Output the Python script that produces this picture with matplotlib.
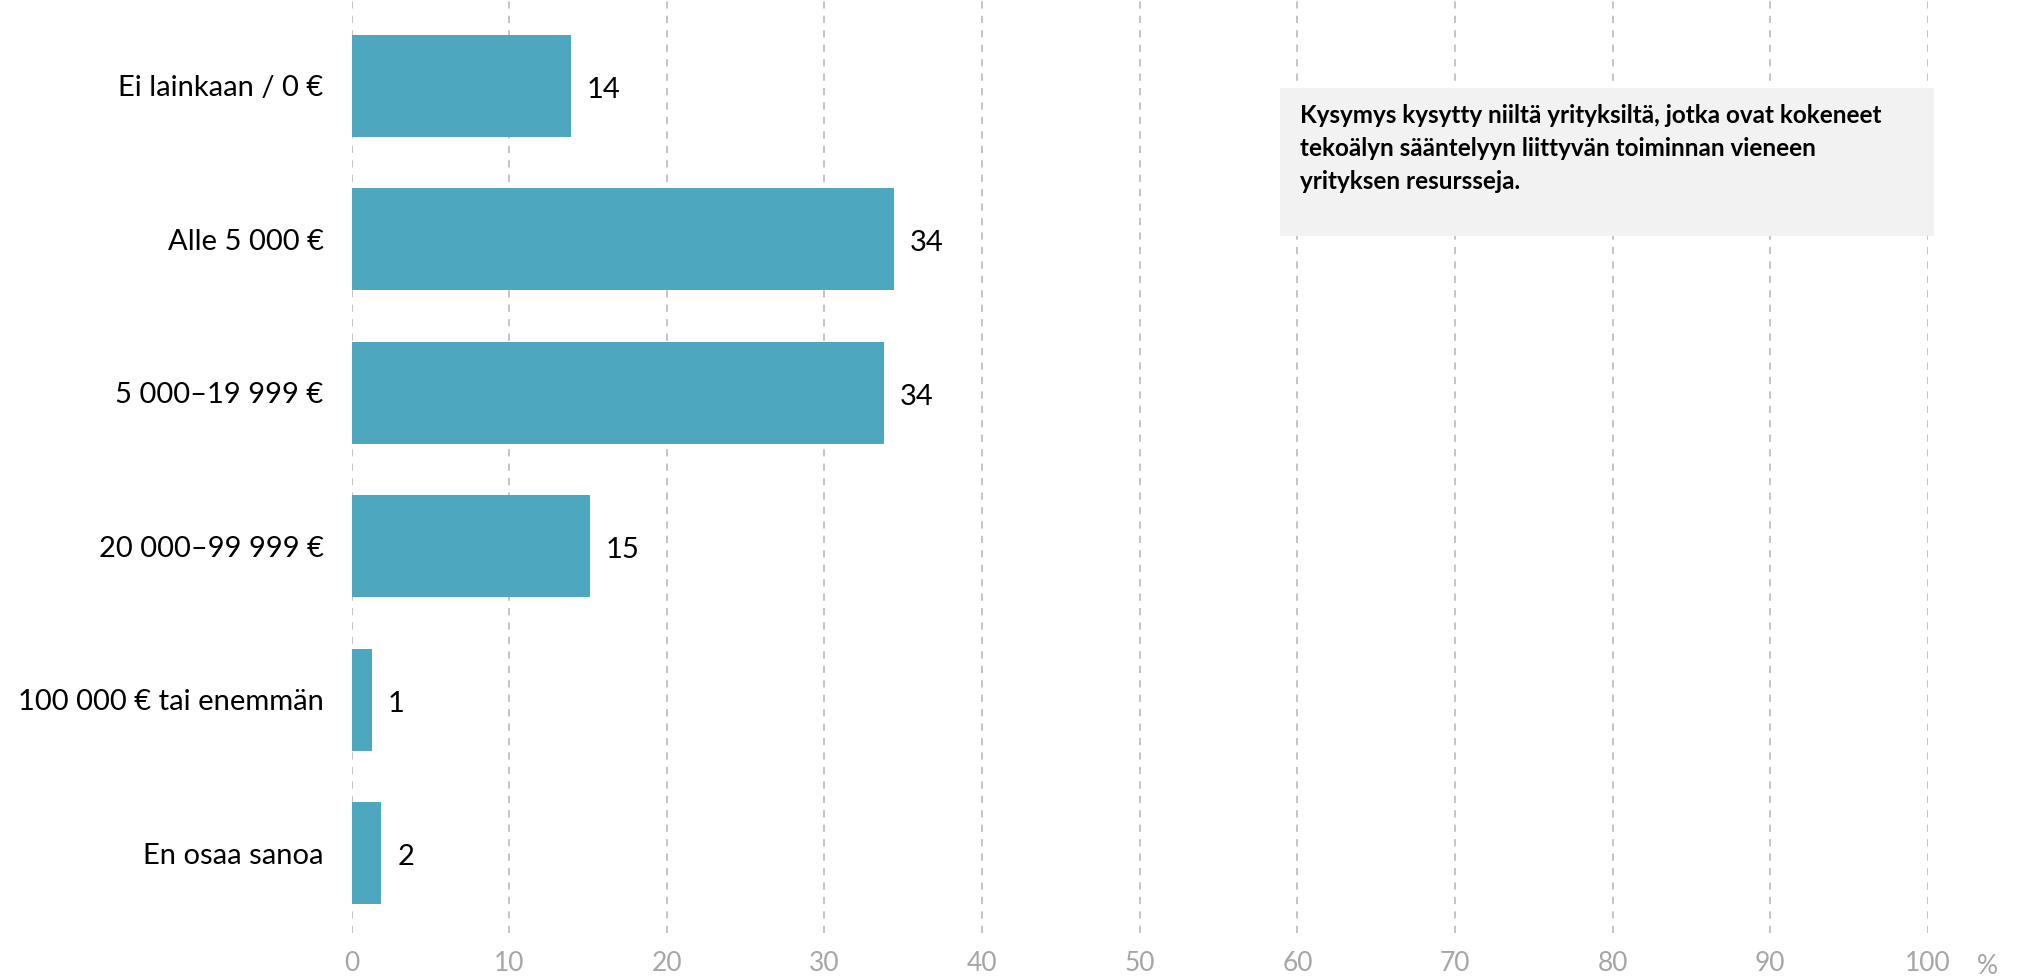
import matplotlib
matplotlib.use("Agg")
import matplotlib.pyplot as plt

plt.rcParams['font.family'] = ['Lato', 'DejaVu Sans']

# data
categories = ['Ei lainkaan / 0 €', 'Alle 5 000 €', '5 000–19 999 €',
              '20 000–99 999 €', '100 000 € tai enemmän', 'En osaa sanoa']
values = [13.9, 34.4, 33.8, 15.1, 1.3, 1.9]
value_labels = ['14', '34', '34', '15', '1', '2']
x_ticks = [0, 10, 20, 30, 40, 50, 60, 70, 80, 90, 100]
note = ('Kysymys kysytty niiltä yrityksiltä, jotka ovat kokeneet\n'
        'tekoälyn sääntelyyn liittyvän toiminnan vieneen\n'
        'yrityksen resursseja.')

bar_color = '#4DA7BE'
grid_color = '#BFBFBF'
tick_color = '#A6A6A6'

fig = plt.figure(figsize=(20.26, 9.76), dpi=100)
ax = fig.add_axes([351.5 / 2026, 1 - 933 / 976, (1928 - 351.5) / 2026, 933 / 976])

y = list(range(len(categories)))
ax.barh(y, values, height=0.665, color=bar_color, zorder=3)

for yi, v, lab in zip(y, values, value_labels):
    ax.text(v + 1.0, yi + 0.025, lab, va='center', ha='left', fontsize=21, color='black')

ax.set_xlim(0, 100)
ax.set_ylim(5.52, -0.56)
ax.set_yticks(y)
ax.set_yticklabels(categories, fontsize=21, color='black')
ax.set_xticks(x_ticks)
ax.set_xticklabels([str(t) for t in x_ticks], fontsize=19, color=tick_color)
ax.tick_params(axis='y', length=0, pad=20)
ax.tick_params(axis='x', length=0, pad=13)

for t in x_ticks:
    ax.axvline(t, color=grid_color, linewidth=1.3, linestyle=(0, (4, 4)), zorder=1)

for s in ax.spines.values():
    s.set_visible(False)

fig.text(1987 / 2026, 1 - 966 / 976, '%', fontsize=19, color=tick_color,
         ha='center', va='center')

# note box
fig.patches.append(plt.Rectangle((1280 / 2026, 1 - 236 / 976), 654 / 2026, 148 / 976,
                                 transform=fig.transFigure, facecolor='#F2F2F2',
                                 edgecolor='none', zorder=4))
fig.text(1300 / 2026, 1 - 104 / 976, note, fontsize=17.5, fontweight='bold', color='black',
         ha='left', va='top', linespacing=1.52, zorder=5)

fig.savefig('out.png', dpi=100)
